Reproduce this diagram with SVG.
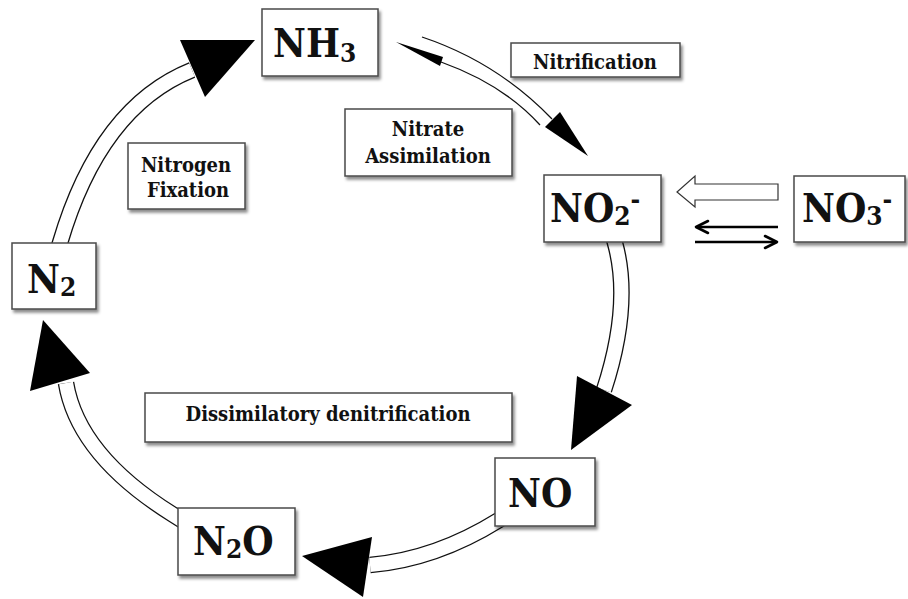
<svg xmlns="http://www.w3.org/2000/svg" width="908" height="599" viewBox="0 0 908 599">
<defs>
<filter id="sh" x="-10%" y="-10%" width="130%" height="140%">
<feDropShadow dx="2" dy="3" stdDeviation="1.6" flood-color="#000" flood-opacity="0.45"/>
</filter>
<style>
.box{fill:#fff;stroke:#4a4a4a;stroke-width:1.5;filter:url(#sh)}
.big{font-family:"DejaVu Serif Condensed","DejaVu Serif",serif;font-stretch:condensed;font-weight:bold;font-size:40px;fill:#111}
.small{font-family:"DejaVu Serif Condensed","DejaVu Serif",serif;font-stretch:condensed;font-weight:bold;font-size:20px;fill:#111;text-anchor:middle}
.sub{font-size:26px}
.outer{fill:none;stroke:#111;stroke-width:16.6}
.inner{fill:none;stroke:#fff;stroke-width:14}
.thin{fill:none;stroke:#111;stroke-width:1.3}
.head{fill:#000}
.chev{fill:none;stroke:#000;stroke-width:2.6;stroke-linecap:round;stroke-linejoin:round}
</style>
</defs>
<g id="connectors">
<!-- N2 -> NH3 -->
<path class="outer" d="M57,253 L60,243 Q100,107 192,70"/>
<path class="inner" d="M57,253 L60,243 Q100,107 192,70"/>
<polygon class="head" points="180,40 255,40 205,97"/>
<!-- NO2 -> NO -->
<path class="outer" d="M612,232 L615,243 Q632,304 604,390"/>
<path class="inner" d="M612,232 L615,243 Q632,304 604,390"/>
<polygon class="head" points="577,376 632,405 571,450"/>
<!-- NO -> N2O -->
<path class="outer" d="M510,513 L499,520 Q435.5,559.5 370,565"/>
<path class="inner" d="M510,513 L499,520 Q435.5,559.5 370,565"/>
<polygon class="head" points="372,537 363,597 302,556"/>
<!-- N2O -> N2 -->
<path class="outer" d="M191,526 L172,514 Q78,455 66,383"/>
<path class="inner" d="M191,526 L172,514 Q78,455 66,383"/>
<polygon class="head" points="30,391 90,373 43,320"/>
<!-- Nitrification NH3 -> NO2 -->
<path class="thin" d="M422,37 Q497,62 552,119"/>
<polygon class="head" points="545,127 560,112 588,156"/>
<!-- Nitrate assimilation NO2 -> NH3 -->
<path class="thin" d="M540,125 Q503.5,84.5 441,62"/>
<polygon class="head" points="443,57 440,66 396,42"/>
<!-- NO3 -> NO2 hollow arrow -->
<polygon points="778,184 695,184 695,176 677,192 695,207 695,200 778,200" fill="#fff" stroke="#333" stroke-width="1.2"/>
<!-- thin arrows -->
<line x1="778" y1="227" x2="697" y2="227" stroke="#000" stroke-width="2.6"/>
<path class="chev" d="M708,221 L696,227 L708,233"/>
<line x1="695" y1="242" x2="776" y2="242" stroke="#000" stroke-width="2.6"/>
<path class="chev" d="M765,236 L777,242 L765,248"/>
</g>
<g id="node-nh3">
<rect class="box" x="262" y="9" width="116" height="67"/>
<text class="big" x="273" y="57">NH<tspan class="sub" dy="5">3</tspan></text>
</g>
<g id="node-no2">
<rect class="box" x="544" y="175" width="117" height="67"/>
<text class="big" x="550" y="222">NO<tspan class="sub" dy="3">2</tspan><tspan class="sub" dy="-17">-</tspan></text>
</g>
<g id="node-no3">
<rect class="box" x="794" y="176" width="111" height="66"/>
<text class="big" x="802" y="222">NO<tspan class="sub" dy="3">3</tspan><tspan class="sub" dy="-17">-</tspan></text>
</g>
<g id="node-n2">
<rect class="box" x="12" y="243" width="84" height="66"/>
<text class="big" x="27" y="293">N<tspan class="sub" dy="3">2</tspan></text>
</g>
<g id="node-no">
<rect class="box" x="495" y="458" width="100" height="68"/>
<text class="big" x="508" y="507">NO</text>
</g>
<g id="node-n2o">
<rect class="box" x="178" y="508" width="117" height="67"/>
<text class="big" x="193" y="555">N<tspan class="sub" dy="3">2</tspan><tspan dy="-3">O</tspan></text>
</g>
<g id="label-nitrification">
<rect class="box" x="511" y="43" width="169" height="34"/>
<text class="small" x="595" y="69">Nitrification</text>
</g>
<g id="label-assimilation">
<rect class="box" x="345" y="109" width="167" height="67"/>
<text class="small" x="428" y="136">Nitrate</text>
<text class="small" x="428" y="163">Assimilation</text>
</g>
<g id="label-fixation">
<rect class="box" x="128" y="143" width="117" height="66"/>
<text class="small" x="186" y="172">Nitrogen</text>
<text class="small" x="188" y="197">Fixation</text>
</g>
<g id="label-denitrification">
<rect class="box" x="145" y="393" width="367" height="49"/>
<text class="small" x="328" y="421">Dissimilatory denitrification</text>
</g>
</svg>
